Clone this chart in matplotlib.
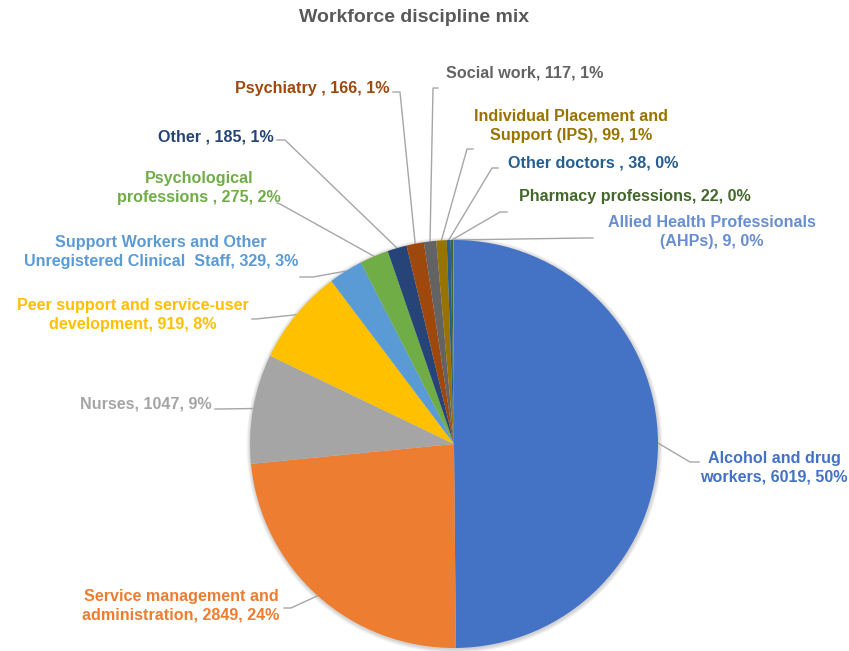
import matplotlib
matplotlib.use("Agg")
import matplotlib.pyplot as plt
from matplotlib.patches import Circle
import numpy as np

plt.rcParams['font.family'] = ['Liberation Sans', 'DejaVu Sans']

# ---- data ----
categories = ["Alcohol and drug\nworkers", "Service management and\nadministration", "Nurses",
              "Peer support and service-user\ndevelopment",
              "Support Workers and Other\nUnregistered Clinical  Staff",
              "Psychological\nprofessions ", "Other ", "Psychiatry ", "Social work",
              "Individual Placement and\nSupport (IPS)", "Other doctors ",
              "Pharmacy professions", "Allied Health Professionals\n(AHPs)"]
values = [6019, 2849, 1047, 919, 329, 275, 185, 166, 117, 99, 38, 22, 9]
percents = [50, 24, 9, 8, 3, 2, 1, 1, 1, 1, 0, 0, 0]
colors = ["#4472C4", "#ED7D31", "#A5A5A5", "#FFC000", "#5B9BD5", "#70AD47", "#264478",
          "#9E480E", "#636363", "#997300", "#255E91", "#43682B", "#698ED0"]

# ---- layout (pixel coordinates) ----
W, H = 849, 651
center = (454, 444)
radius = 204
label_pos = [(774, 468), (181, 606), (146, 404), (133, 315), (161, 252), (199, 188),
             (216, 137), (312, 88), (525, 73), (571, 126), (593, 163), (635, 197), (712, 232)]
leader_start = [(699, 462), (284, 608), (215, 409), (252, 319), (300, 277), (277, 203),
                (277, 140), (393, 92), (438, 88), (473, 149), (498, 168), (507, 212), (593, 238)]
leader_elbow = [(690, 462), (291, 608), (220, 409), (256, 319), (313, 277), (280, 204),
                (285, 140), (400, 92), (433, 88), (467, 149), (492, 168), (500, 212), (585, 238)]

fig = plt.figure(figsize=(W / 100, H / 100), dpi=100)
ax = fig.add_axes([0, 0, 1, 1])

# soft shadow behind the pie
for k in range(5, 0, -1):
    ax.add_patch(Circle((center[0] + 0.5, center[1] + 1), radius + k * 0.8,
                        facecolor='black', edgecolor='none', alpha=0.035, zorder=0))

wedges, _ = ax.pie(values, colors=colors, startangle=-90, counterclock=True,
                   center=center, radius=radius, wedgeprops=dict(linewidth=0, zorder=2))
ax.set_xlim(0, W)
ax.set_ylim(H, 0)
ax.set_aspect('auto')
ax.axis('off')

total = sum(values)
cum = 0
for i, v in enumerate(values):
    ang = np.deg2rad(-90 + 360 * (cum + v / 2) / total)
    cum += v
    ex = center[0] + radius * np.cos(ang)
    ey = center[1] + radius * np.sin(ang)
    sx, sy = leader_start[i]
    bx, by = leader_elbow[i]
    ax.plot([sx, bx, ex], [sy, by, ey], color="#A6A6A6", lw=1.0, zorder=1)
    ax.text(label_pos[i][0], label_pos[i][1],
            f"{categories[i]}, {v}, {percents[i]}%",
            ha='center', va='center', multialignment='center',
            fontsize=11.6, fontweight='bold', color=colors[i], linespacing=1.32)

ax.text(414, 18, "Workforce discipline mix", ha='center', va='center',
        fontsize=14, fontweight='bold', color="#595959")

fig.savefig("out.png", dpi=100)
